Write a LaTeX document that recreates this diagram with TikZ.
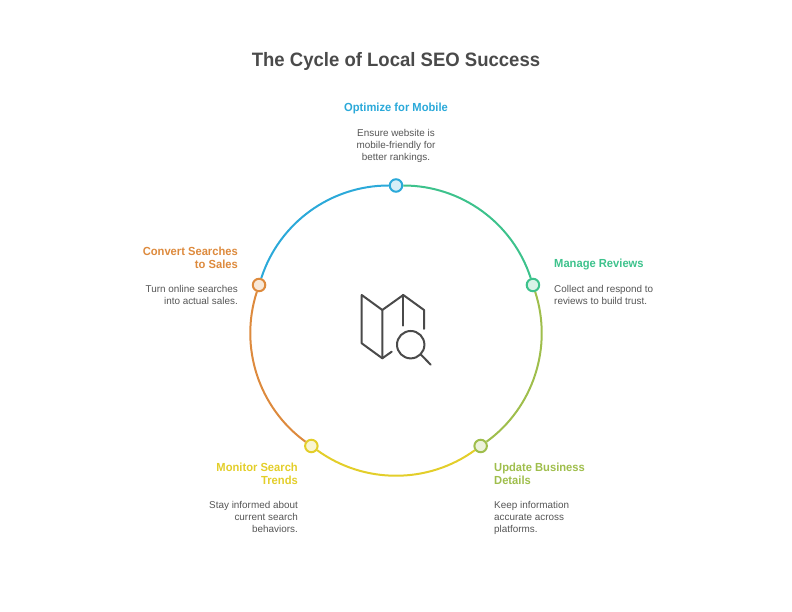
\documentclass[tikz,border=0pt]{standalone}
\usepackage{fontspec}
\setmainfont{Liberation Sans}
\newfontfamily\headf[FakeStretch=0.955]{Liberation Sans}
\definecolor{cblue}{HTML}{2BA9D9}
\definecolor{cgreen}{HTML}{3DC28C}
\definecolor{clime}{HTML}{9FBE4C}
\definecolor{cyel}{HTML}{E3CE2A}
\definecolor{corg}{HTML}{DD8A3D}
\definecolor{ctext}{HTML}{555555}
\definecolor{cicon}{HTML}{4A4A4A}
\tikzset{
  dot/.style={circle,draw=#1,fill=#1!20,line width=2pt,minimum size=12.5pt,inner sep=0pt},
  seg/.style={draw=#1,line width=2pt,looseness=0.941},
  head/.style={font=\headf\fontsize{11.7}{13.3}\selectfont\bfseries,text=#1,inner sep=0pt},
  body/.style={font=\fontsize{9.9}{12}\selectfont,text=ctext,inner sep=0pt},
  iconline/.style={draw=cicon,line width=2pt,line cap=round,line join=round}
}
\begin{document}
\begin{tikzpicture}[x=1pt,y=1pt]
\useasboundingbox (0,0) rectangle (792,612);
\node[font=\headf\fontsize{19.4}{24}\selectfont\bfseries,text=cicon,inner sep=0pt] (title) at (396,550.5) {The Cycle of Local SEO Success};
\begin{scope}[shift={(396,282.5)}]
\node[dot=cblue] (top) at (90:144) {};
\node[dot=cgreen] (right) at (18:144) {};
\node[dot=clime] (lr) at (-54:144) {};
\node[dot=cyel] (ll) at (-126:144) {};
\node[dot=corg] (left) at (162:144) {};
\end{scope}
\path[seg=cgreen] (top) to[out=0,in=108] (right);
\path[seg=clime] (right) to[out=-72,in=36] (lr);
\path[seg=cyel] (lr) to[out=-144,in=-36] (ll);
\path[seg=corg] (ll) to[out=144,in=-108] (left);
\path[seg=cblue] (left) to[out=72,in=180] (top);
% labels
\node[head=cblue,align=center,anchor=base] (h1) at (396,500.5) {Optimize for Mobile};
\node[body,align=center,anchor=north] (b1) at (396,482.5) {Ensure website is\\mobile-friendly for\\better rankings.};
\node[head=cgreen,align=left,anchor=base west] (h2) at (554,344) {Manage Reviews};
\node[body,align=left,anchor=north west] (b2) at (554,327) {Collect and respond to\\reviews to build trust.};
\node[head=clime,align=left,anchor=north west] (h3) at (494,149.5) {Update Business\\Details};
\node[body,align=left,anchor=north west] (b3) at (494,110.5) {Keep information\\accurate across\\platforms.};
\node[head=cyel,align=right,anchor=north east] (h4) at (298,149.5) {Monitor Search\\Trends};
\node[body,align=right,anchor=north east] (b4) at (298,110.5) {Stay informed about\\current search\\behaviors.};
\node[head=corg,align=right,anchor=north east] (h5) at (238,365.5) {Convert Searches\\to Sales};
\node[body,align=right,anchor=north east] (b5) at (238,327) {Turn online searches\\into actual sales.};
% map icon
\draw[iconline] (382.3,302) -- (361.7,317) -- (361.7,268.7) -- (382.3,253.7) -- (391.7,260.3);
\draw[iconline] (382.3,253.7) -- (382.3,302) -- (403.3,317) -- (424,302) -- (424,283);
\draw[iconline] (403.3,317) -- (403.3,286.3);
\draw[iconline] (410.7,267.3) circle (13.7);
\draw[iconline] (420.5,257.8) -- (430.7,247.3);
\end{tikzpicture}
\end{document}
